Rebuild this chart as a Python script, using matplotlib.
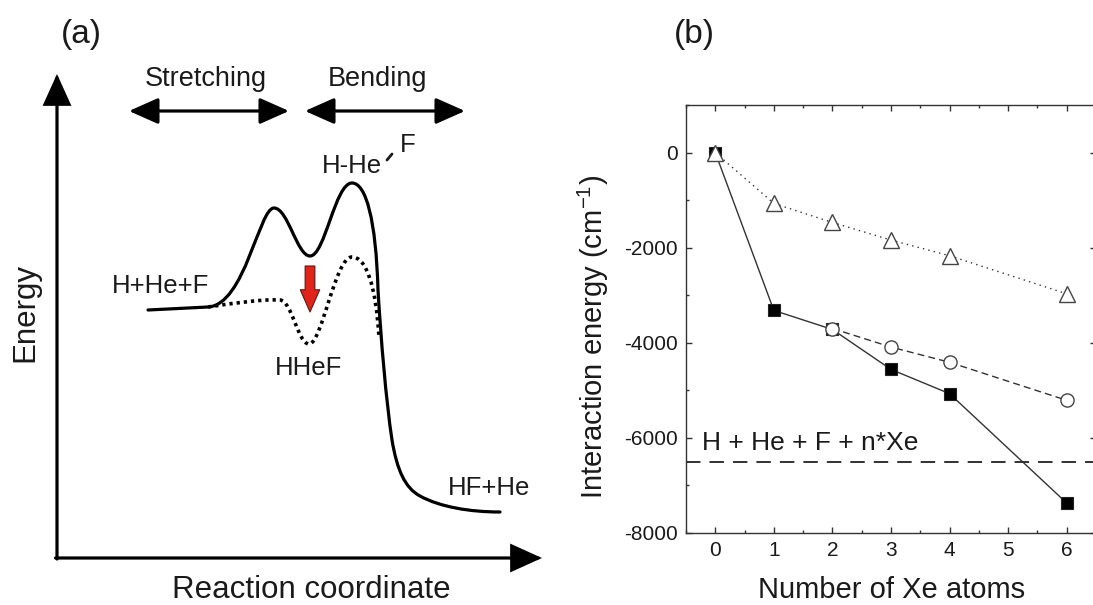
import matplotlib
matplotlib.use("Agg")
import matplotlib.pyplot as plt
from matplotlib.path import Path
from matplotlib.patches import PathPatch, FancyArrowPatch
from matplotlib.ticker import MultipleLocator, FuncFormatter

plt.rcParams["font.family"] = ["Liberation Sans", "DejaVu Sans"]
plt.rcParams["axes.unicode_minus"] = False
plt.rcParams["mathtext.fontset"] = "custom"
plt.rcParams["mathtext.rm"] = "Liberation Sans"

W, H = 1093, 605

# ---- panel (b) data: interaction energy vs number of Xe atoms
n_square = [0, 1, 2, 3, 4, 6]
e_square = [0, -3320, -3720, -4560, -5070, -7370]
n_circle = [2, 3, 4, 6]
e_circle = [-3700, -4090, -4410, -5210]
n_triangle = [0, 1, 2, 3, 4, 6]
e_triangle = [0, -1070, -1470, -1840, -2170, -2970]
dissociation_level = -6500
x_ticks = [0, 1, 2, 3, 4, 5, 6]
y_ticks = [0, -2000, -4000, -6000, -8000]

# ---- panel (a) schematic potential curves (panel pixel frame, y down)
solid_start = (148, 310)
solid_segments = [
    [(208, 307)],
    [(245, 305), (259, 208), (274, 208)],
    [(288, 208), (297, 256), (310, 256)],
    [(325, 256), (335, 183), (352, 183)],
    [(366, 183), (376, 220), (378, 290)],
    [(381, 340), (386, 400), (392, 440)],
    [(397, 470), (405, 488), (420, 496)],
    [(440, 507), (470, 512), (500, 512)],
]
dotted_start = (208, 307)
dotted_segments = [
    [(235, 303), (262, 299), (280, 300)],
    [(292, 301), (298, 344), (309, 344)],
    [(322, 344), (335, 257), (352, 257)],
    [(366, 257), (376, 285), (379, 338)],
]


def bezier_path(start, segments):
    verts = [start]
    codes = [Path.MOVETO]
    for seg in segments:
        verts.extend(seg)
        codes.extend([Path.LINETO] if len(seg) == 1 else [Path.CURVE4] * 3)
    return Path(verts, codes)


fig = plt.figure(figsize=(W / 100, H / 100), dpi=100)
fig.patch.set_facecolor("white")
ink = "#1a1a1a"

# ================= panel (a) =================
ax_a = fig.add_axes([0, 0, 560 / W, 1])
ax_a.set_xlim(0, 560)
ax_a.set_ylim(H, 0)
ax_a.axis("off")

# axes arrows
for tail, tip in [((57, 559), (57, 74)), ((55.5, 558), (542, 558))]:
    ax_a.add_patch(FancyArrowPatch(tail, tip, arrowstyle="-|>,head_length=0.95,head_width=0.43",
                                   mutation_scale=20, lw=2.3, color="black",
                                   shrinkA=0, shrinkB=0, joinstyle="miter"))

# double arrows for stretching / bending
for x0, x1 in [(129, 289), (305, 465)]:
    ax_a.add_patch(FancyArrowPatch((x0, 111), (x1, 111),
                                   arrowstyle="<|-|>,head_length=0.9,head_width=0.4",
                                   mutation_scale=20, lw=2.3, color="black",
                                   shrinkA=0, shrinkB=0))

ax_a.add_patch(PathPatch(bezier_path(solid_start, solid_segments), fill=False,
                         lw=2.3, edgecolor="black", capstyle="round"))
ax_a.add_patch(PathPatch(bezier_path(dotted_start, dotted_segments), fill=False,
                         lw=2.6, edgecolor="black", linestyle=(0, (0.9, 1.1)),
                         capstyle="butt"))

# red arrow into the HHeF well
ax_a.add_patch(FancyArrowPatch((310, 266), (310, 312),
                               arrowstyle="simple,head_length=16,head_width=14,tail_width=7",
                               mutation_scale=1, facecolor="#e2231a", edgecolor="#5a1a12",
                               lw=0.8, shrinkA=0, shrinkB=0))

# bent bond mark between He and F
ax_a.plot([387, 392], [160, 154], color=ink, lw=2.0, solid_capstyle="round")

ax_a.text(61, 34, "(a)", fontsize=24, color=ink, ha="left", va="center")
ax_a.text(206, 86, "Stretching", fontsize=19.5, color=ink, ha="center", va="baseline")
ax_a.text(378, 86, "Bending", fontsize=19.5, color=ink, ha="center", va="baseline")
ax_a.text(112, 293, "H+He+F", fontsize=18.5, color=ink, ha="left", va="baseline")
ax_a.text(309, 375, "HHeF", fontsize=18.5, color=ink, ha="center", va="baseline")
ax_a.text(448, 495, "HF+He", fontsize=18.5, color=ink, ha="left", va="baseline")
ax_a.text(322, 173, "H-He", fontsize=18.5, color=ink, ha="left", va="baseline")
ax_a.text(400, 152, "F", fontsize=18.5, color=ink, ha="left", va="baseline")
ax_a.text(33, 312, "Energy", fontsize=22.5, color=ink, rotation=90,
          rotation_mode="anchor", ha="center", va="baseline")
ax_a.text(311, 598, "Reaction coordinate", fontsize=22.5, color=ink,
          ha="center", va="baseline")

# ================= panel (b) =================
left, right, top, bottom = 686, 1096, 105, 533
ax = fig.add_axes([left / W, 1 - bottom / H, (right - left) / W, (bottom - top) / H])
line_col = "#333333"

ax.plot(n_square, e_square, "-", color=line_col, lw=1.0, marker="s", ms=8.5,
        mfc="black", mec="#222222", mew=0.8, zorder=3)
ax.plot(n_circle, e_circle, color=line_col, lw=1.0, linestyle=(0, (5, 3)), marker="o",
        ms=9.5, mfc="white", mec="#444444", mew=1.0, zorder=4)
ax.plot(n_triangle, e_triangle, color=line_col, lw=1.0, linestyle=(0, (1, 3)), marker="^",
        ms=11, mfc="white", mec="#444444", mew=1.0, zorder=5)
ax.axhline(dissociation_level, color="#222222", lw=1.3, linestyle=(0, (8, 5)), zorder=2)
ax.text(-0.22, -6250, "H + He + F + n*Xe", fontsize=19, color=ink, ha="left", va="baseline")

ax.set_xlim(-0.5, 6.5)
ax.set_ylim(-8000, 1000)
ax.set_xticks(x_ticks)
ax.set_yticks(y_ticks)
ax.xaxis.set_minor_locator(MultipleLocator(0.5))
ax.yaxis.set_minor_locator(MultipleLocator(1000))
ax.yaxis.set_major_formatter(FuncFormatter(lambda v, p: f"{int(v)}"))
ax.tick_params(which="both", direction="in", top=True, right=True, width=1.0,
               color="#333333", labelsize=15, labelcolor=ink)
ax.tick_params(which="major", length=4.5, pad=6)
ax.tick_params(which="minor", length=2.5)
for s in ax.spines.values():
    s.set_linewidth(1.0)
    s.set_color("#333333")

fig.text(603 / W, 1 - 337 / H, "Interaction energy (cm$^{\\mathregular{-1}}$)", fontsize=21,
         color=ink, rotation=90, rotation_mode="anchor", ha="center", va="baseline")
fig.text(892 / W, 1 - 598 / H, "Number of Xe atoms", fontsize=21, color=ink,
         ha="center", va="baseline")
fig.text(674 / W, 1 - 34 / H, "(b)", fontsize=24, color=ink, ha="left", va="center")

fig.savefig("out.png", dpi=100, facecolor="white")
